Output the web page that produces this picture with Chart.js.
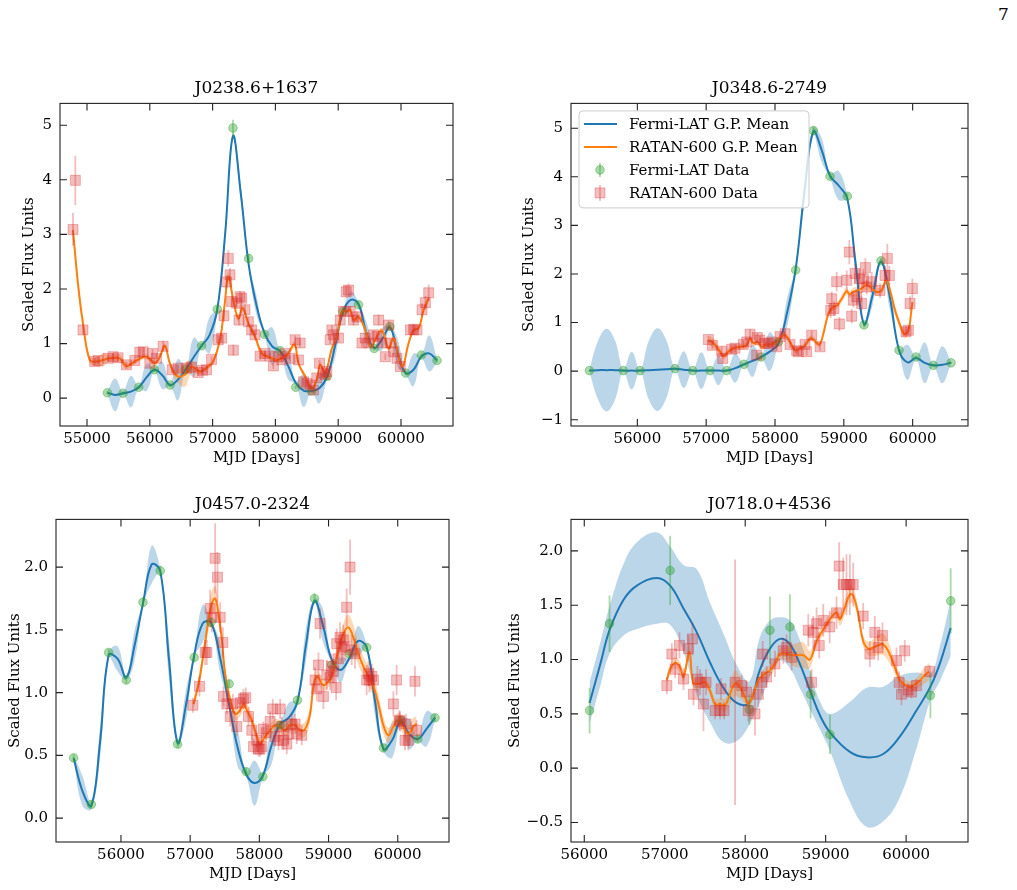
<!DOCTYPE html>
<html>
<head>
<meta charset="utf-8">
<script src="https://cdn.jsdelivr.net/npm/chart.js@4.4.1/dist/chart.umd.min.js"></script>
<style>
  body { margin: 0; background: #fff; width: 1017px; height: 890px; position: relative; overflow: hidden; font-family: 'DejaVu Serif', serif; }
  canvas { position: absolute; }
  #page { position: absolute; left: 998px; top: 4px; font-size: 17px; color: #000; }
</style>
</head>
<body>
<div id="page">7</div>
<canvas id="c1" width="447" height="396" style="left:18px;top:74px"></canvas>
<canvas id="c2" width="462" height="396" style="left:518px;top:74px"></canvas>
<canvas id="c3" width="457" height="396" style="left:4px;top:490px"></canvas>
<canvas id="c4" width="476" height="396" style="left:504px;top:490px"></canvas>
<script>
// ---------- J0238.6+1637 ----------
const j0238XTicks = [55000, 56000, 57000, 58000, 59000, 60000];
const j0238YTicks = [0, 1, 2, 3, 4, 5];
const j0238FermiMjd = [55324, 55574, 55824, 56074, 56324, 56574, 56824, 57074, 57324, 57574, 57824, 58074, 58324, 58574, 58824, 59074, 59324, 59574, 59824, 60074, 60324, 60574];
const j0238FermiFlux = [0.10, 0.09, 0.20, 0.52, 0.24, 0.53, 0.96, 1.63, 4.95, 2.56, 1.17, 0.87, 0.20, 0.13, 0.40, 1.59, 1.71, 0.91, 1.31, 0.46, 0.79, 0.69];
const j0238FermiErr = [0.03, 0.03, 0.03, 0.04, 0.03, 0.04, 0.05, 0.06, 0.15, 0.08, 0.05, 0.04, 0.03, 0.03, 0.04, 0.06, 0.06, 0.04, 0.05, 0.04, 0.04, 0.04];
const j0238RatanMjd = [
  54777, 54814, 54936, 55122, 55176, 55335, 55415, 55495, 55628, 55761,
  55840, 55894, 56000, 56043, 56106, 56213, 56356, 56452, 56585, 56665,
  56771, 56840, 56904, 56984, 57090, 57144, 57181, 57223, 57250, 57277,
  57303, 57330, 57383, 57420, 57436, 57463, 57516, 57569, 57622, 57675,
  57755, 57835, 57915, 57968, 58048, 58101, 58154, 58234, 58314, 58367,
  58394, 58447, 58500, 58553, 58606, 58659, 58702, 58766, 58792, 58819,
  58872, 58899, 58926, 59005, 59032, 59085, 59128, 59165, 59191, 59244,
  59298, 59378, 59431, 59484, 59564, 59617, 59644, 59697, 59750, 59803,
  59830, 59883, 59936, 59989, 60149, 60202, 60255, 60335, 60388, 60441];
const j0238RatanFlux = [
  3.09, 3.99, 1.25, 0.67, 0.69, 0.73, 0.76, 0.74, 0.61, 0.69,
  0.84, 0.85, 0.64, 0.82, 0.73, 0.95, 0.52, 0.55, 0.55, 0.57,
  0.47, 0.51, 0.52, 0.71, 1.07, 1.10, 1.51, 2.13, 2.56, 2.26,
  1.77, 0.88, 1.74, 1.43, 1.86, 1.83, 1.62, 1.40, 1.25, 1.16,
  0.77, 0.82, 0.77, 0.59, 0.76, 0.70, 0.82, 0.73, 1.07, 0.70,
  1.01, 0.30, 0.27, 0.24, 0.15, 0.37, 0.64, 0.46, 0.43, 0.49,
  1.07, 1.25, 1.16, 1.10, 1.43, 1.59, 1.95, 1.98, 1.59, 1.43,
  1.49, 1.01, 1.10, 1.01, 1.16, 1.13, 1.43, 1.01, 0.76, 1.34,
  1.01, 0.85, 0.73, 0.58, 1.25, 1.26, 1.25, 1.62, 1.75, 1.93];
const j0238RatanErr = [
  0.30, 0.45, 0.08, 0.06, 0.06, 0.06, 0.06, 0.06, 0.06, 0.06,
  0.08, 0.08, 0.08, 0.08, 0.08, 0.10, 0.06, 0.06, 0.06, 0.06,
  0.06, 0.06, 0.06, 0.06, 0.08, 0.08, 0.10, 0.12, 0.15, 0.12,
  0.10, 0.10, 0.10, 0.10, 0.10, 0.10, 0.10, 0.08, 0.08, 0.08,
  0.06, 0.06, 0.06, 0.06, 0.06, 0.06, 0.06, 0.06, 0.08, 0.06,
  0.08, 0.06, 0.06, 0.06, 0.06, 0.06, 0.06, 0.06, 0.06, 0.06,
  0.08, 0.08, 0.08, 0.08, 0.10, 0.10, 0.12, 0.12, 0.10, 0.10,
  0.10, 0.08, 0.08, 0.08, 0.08, 0.08, 0.10, 0.08, 0.06, 0.08,
  0.08, 0.08, 0.06, 0.06, 0.10, 0.10, 0.10, 0.12, 0.12, 0.15];
const j0238FermiGpMjd = [
  55324, 55449, 55574, 55699, 55824, 55949, 56074, 56199, 56324, 56449,
  56574, 56699, 56824, 56949, 57074, 57199, 57324, 57449, 57574, 57699,
  57824, 57949, 58074, 58199, 58324, 58449, 58574, 58699, 58824, 58949,
  59074, 59199, 59324, 59449, 59574, 59699, 59824, 59949, 60074, 60199,
  60324, 60449, 60574];
const j0238FermiGpMean = [
  0.10, 0.06, 0.09, 0.12, 0.20, 0.38, 0.52, 0.42, 0.24, 0.34,
  0.53, 0.75, 0.96, 1.15, 1.62, 3.00, 4.80, 3.75, 2.45, 1.70,
  1.20, 0.95, 0.86, 0.60, 0.28, 0.14, 0.13, 0.18, 0.40, 0.95,
  1.57, 1.80, 1.72, 1.20, 0.92, 1.08, 1.30, 0.82, 0.46, 0.52,
  0.76, 0.82, 0.69];
const j0238FermiGpSigma = [
  0.03, 0.30, 0.03, 0.29, 0.03, 0.25, 0.03, 0.25, 0.03, 0.38,
  0.03, 0.36, 0.03, 0.33, 0.04, 0.15, 0.06, 0.15, 0.04, 0.18,
  0.03, 0.35, 0.03, 0.25, 0.03, 0.30, 0.03, 0.28, 0.04, 0.22,
  0.04, 0.15, 0.04, 0.20, 0.03, 0.20, 0.03, 0.25, 0.03, 0.30,
  0.03, 0.33, 0.03];
const j0238RatanGpMjd = [
  54777, 54856, 54936, 55043, 55149, 55255, 55362, 55521, 55628, 55787,
  55947, 56080, 56160, 56240, 56319, 56426, 56559, 56665, 56798, 56931,
  57010, 57117, 57190, 57250, 57330, 57410, 57479, 57569, 57675, 57782,
  57888, 58021, 58181, 58303, 58367, 58473, 58580, 58659, 58712, 58792,
  58899, 58979, 59059, 59138, 59191, 59244, 59324, 59431, 59521, 59617,
  59697, 59803, 59883, 60016, 60122, 60202, 60282, 60362, 60441];
const j0238RatanGpMean = [
  3.08, 2.10, 1.37, 0.70, 0.67, 0.70, 0.73, 0.73, 0.59, 0.69,
  0.76, 0.64, 0.76, 0.96, 0.64, 0.41, 0.43, 0.58, 0.49, 0.58,
  0.67, 1.07, 1.70, 2.23, 1.80, 1.46, 1.65, 1.37, 1.13, 0.82,
  0.76, 0.70, 0.79, 0.98, 0.64, 0.40, 0.18, 0.34, 0.61, 0.46,
  0.91, 1.13, 1.59, 1.59, 1.62, 1.43, 1.49, 1.25, 0.95, 1.13,
  1.24, 0.91, 1.10, 0.58, 1.01, 1.25, 1.28, 1.62, 1.83];
const j0238RatanGpSigma = [
  0.15, 0.12, 0.10, 0.06, 0.08, 0.12, 0.06, 0.08, 0.06, 0.05,
  0.05, 0.05, 0.05, 0.05, 0.05, 0.10, 0.22, 0.12, 0.05, 0.05,
  0.05, 0.06, 0.08, 0.10, 0.10, 0.06, 0.06, 0.06, 0.06, 0.08,
  0.05, 0.05, 0.05, 0.06, 0.05, 0.05, 0.05, 0.05, 0.05, 0.05,
  0.06, 0.05, 0.05, 0.05, 0.05, 0.05, 0.06, 0.05, 0.05, 0.05,
  0.05, 0.06, 0.06, 0.05, 0.05, 0.05, 0.05, 0.06, 0.08];

// ---------- J0348.6-2749 ----------
const j0348XTicks = [56000, 57000, 58000, 59000, 60000];
const j0348YTicks = [-1, 0, 1, 2, 3, 4, 5];
const j0348FermiMjd = [55303, 55797, 56039, 56547, 56804, 57056, 57298, 57550, 57797, 58049, 58300, 58557, 58799, 59051, 59293, 59540, 59802, 60049, 60301, 60557];
const j0348FermiFlux = [0.01, 0.01, 0.01, 0.05, 0.01, 0.01, 0.01, 0.14, 0.29, 0.60, 2.08, 4.95, 4.01, 3.60, 0.95, 2.27, 0.43, 0.29, 0.12, 0.17];
const j0348FermiErr = [0.02, 0.02, 0.02, 0.02, 0.02, 0.02, 0.02, 0.03, 0.03, 0.04, 0.06, 0.08, 0.06, 0.06, 0.05, 0.06, 0.03, 0.03, 0.02, 0.02];
const j0348RatanMjd = [
  57032, 57090, 57225, 57240, 57371, 57419, 57540, 57589, 57637, 57734,
  57744, 57782, 57855, 57903, 57952, 58024, 58073, 58146, 58218, 58315,
  58339, 58436, 58460, 58533, 58654, 58809, 58824, 58857, 58896, 58935,
  59042, 59080, 59114, 59138, 59163, 59187, 59226, 59259, 59284, 59313,
  59332, 59405, 59526, 59598, 59632, 59661, 59904, 59938, 59962, 59996];
const j0348RatanFlux = [
  0.65, 0.53, 0.41, 0.26, 0.45, 0.47, 0.55, 0.60, 0.76, 0.33,
  0.69, 0.64, 0.57, 0.57, 0.60, 0.50, 0.71, 0.77, 0.55, 0.42,
  0.40, 0.55, 0.40, 0.74, 0.50, 1.25, 1.49, 1.29, 1.84, 0.97,
  1.87, 2.45, 1.13, 1.46, 2.01, 1.53, 1.90, 1.39, 1.90, 2.13,
  1.73, 1.84, 1.66, 1.97, 2.32, 1.97, 0.81, 0.84, 1.39, 1.70];
const j0348RatanErr = [
  0.08, 0.08, 0.10, 0.10, 0.08, 0.08, 0.08, 0.08, 0.10, 0.08,
  0.10, 0.08, 0.08, 0.08, 0.08, 0.08, 0.08, 0.10, 0.08, 0.08,
  0.08, 0.08, 0.08, 0.10, 0.08, 0.15, 0.15, 0.15, 0.20, 0.15,
  0.20, 0.25, 0.15, 0.15, 0.20, 0.15, 0.20, 0.15, 0.20, 0.20,
  0.15, 0.20, 0.15, 0.20, 0.30, 0.20, 0.10, 0.10, 0.15, 0.20];
const j0348FermiGpMjd = [
  55303, 55428, 55553, 55678, 55797, 55918, 56039, 56166, 56293, 56420,
  56547, 56675, 56804, 56930, 57056, 57177, 57298, 57424, 57550, 57673,
  57797, 57923, 58049, 58175, 58300, 58428, 58557, 58678, 58799, 58925,
  59051, 59172, 59293, 59416, 59540, 59671, 59802, 59925, 60049, 60175,
  60301, 60429, 60557];
const j0348FermiGpMean = [
  0.01, 0.02, 0.02, 0.02, 0.01, 0.01, 0.01, 0.02, 0.03, 0.04,
  0.05, 0.03, 0.01, 0.01, 0.01, 0.01, 0.01, 0.06, 0.14, 0.21,
  0.29, 0.40, 0.56, 1.20, 2.10, 3.70, 4.93, 4.55, 4.02, 3.82,
  3.55, 2.20, 0.97, 1.55, 2.25, 1.50, 0.43, 0.18, 0.27, 0.17,
  0.12, 0.13, 0.17];
const j0348FermiGpSigma = [
  0.02, 0.60, 0.85, 0.60, 0.02, 0.39, 0.02, 0.60, 0.85, 0.60,
  0.03, 0.38, 0.02, 0.38, 0.02, 0.30, 0.02, 0.30, 0.02, 0.33,
  0.02, 0.40, 0.03, 0.30, 0.05, 0.25, 0.08, 0.25, 0.05, 0.30,
  0.05, 0.20, 0.05, 0.20, 0.05, 0.25, 0.03, 0.36, 0.03, 0.42,
  0.03, 0.38, 0.03];
const j0348RatanGpMjd = [
  57032, 57104, 57201, 57250, 57322, 57395, 57492, 57589, 57637, 57685,
  57744, 57807, 57879, 57952, 58024, 58097, 58146, 58218, 58291, 58363,
  58436, 58509, 58557, 58644, 58702, 58775, 58838, 58906, 58979, 59042,
  59080, 59138, 59235, 59332, 59405, 59477, 59550, 59613, 59671, 59744,
  59816, 59874, 59938, 59976, 59996];
const j0348RatanGpMean = [
  0.64, 0.58, 0.40, 0.31, 0.40, 0.47, 0.50, 0.53, 0.67, 0.57,
  0.60, 0.50, 0.55, 0.55, 0.62, 0.72, 0.74, 0.60, 0.43, 0.47,
  0.53, 0.67, 0.65, 0.55, 0.77, 1.18, 1.31, 1.36, 1.51, 1.65,
  1.58, 1.63, 1.68, 1.77, 1.70, 1.63, 1.66, 1.87, 1.66, 1.25,
  0.95, 0.77, 0.84, 1.18, 1.42];
const j0348RatanGpSigma = [
  0.10, 0.10, 0.08, 0.07, 0.07, 0.06, 0.06, 0.06, 0.06, 0.06,
  0.06, 0.06, 0.06, 0.06, 0.06, 0.06, 0.06, 0.06, 0.06, 0.06,
  0.06, 0.06, 0.06, 0.06, 0.08, 0.08, 0.07, 0.07, 0.08, 0.08,
  0.07, 0.08, 0.10, 0.10, 0.09, 0.08, 0.08, 0.08, 0.10, 0.10,
  0.09, 0.09, 0.08, 0.09, 0.10];

// ---------- J0457.0-2324 ----------
const j0457XTicks = [56000, 57000, 58000, 59000, 60000];
const j0457YTicks = [0, 0.5, 1, 1.5, 2];
const j0457FermiMjd = [55316, 55572, 55822, 56077, 56318, 56568, 56818, 57059, 57300, 57564, 57810, 58051, 58301, 58551, 58797, 59047, 59297, 59552, 59793, 60043, 60289, 60539];
const j0457FermiFlux = [0.48, 0.11, 1.32, 1.10, 1.72, 1.97, 0.59, 1.28, 1.56, 1.07, 0.37, 0.33, 0.74, 0.94, 1.75, 1.22, 1.31, 1.36, 0.56, 0.78, 0.63, 0.80];
const j0457FermiErr = [0.03, 0.03, 0.03, 0.03, 0.04, 0.04, 0.03, 0.04, 0.04, 0.03, 0.03, 0.03, 0.03, 0.03, 0.04, 0.03, 0.03, 0.03, 0.03, 0.03, 0.03, 0.03];
const j0457RatanMjd = [
  57039, 57135, 57217, 57241, 57289, 57313, 57361, 57395, 57434, 57472,
  57482, 57530, 57578, 57616, 57674, 57722, 57770, 57804, 57843, 57891,
  57916, 57963, 57988, 58011, 58035, 58059, 58098, 58156, 58194, 58228,
  58276, 58301, 58324, 58348, 58396, 58420, 58468, 58516, 58540, 58613,
  58805, 58829, 58855, 58877, 58926, 58974, 59023, 59046, 59070, 59110,
  59118, 59142, 59166, 59191, 59214, 59238, 59262, 59311, 59335, 59383,
  59551, 59576, 59590, 59624, 59649, 59937, 59984, 60024, 60033, 60105,
  60120, 60153, 60249, 60273];
const j0457RatanFlux = [
  0.90, 1.05, 1.32, 1.32, 1.67, 1.60, 2.07, 1.92, 1.60, 1.40,
  0.97, 0.91, 0.81, 0.91, 0.73, 0.92, 0.95, 0.96, 0.81, 0.70,
  0.57, 0.62, 0.55, 0.55, 0.57, 0.71, 0.68, 0.77, 0.87, 0.65,
  0.62, 0.87, 0.73, 0.62, 0.59, 0.67, 0.75, 0.75, 0.67, 0.66,
  1.10, 1.03, 1.22, 1.55, 0.97, 1.14, 1.12, 1.21, 1.17, 1.04,
  1.39, 1.27, 1.44, 1.36, 1.42, 1.37, 1.68, 2.00, 1.34, 1.31,
  1.10, 1.15, 1.10, 1.13, 1.10, 0.91, 1.10, 0.78, 0.77, 0.62,
  0.75, 0.62, 1.09, 0.70];
const j0457RatanErr = [
  0.06, 0.08, 0.10, 0.10, 0.15, 0.12, 0.28, 0.20, 0.12, 0.12,
  0.08, 0.08, 0.08, 0.08, 0.08, 0.08, 0.08, 0.08, 0.08, 0.08,
  0.06, 0.06, 0.06, 0.06, 0.06, 0.06, 0.06, 0.08, 0.08, 0.08,
  0.08, 0.08, 0.08, 0.08, 0.08, 0.08, 0.08, 0.08, 0.08, 0.08,
  0.10, 0.10, 0.10, 0.12, 0.10, 0.12, 0.10, 0.10, 0.10, 0.10,
  0.12, 0.10, 0.12, 0.12, 0.12, 0.12, 0.15, 0.22, 0.12, 0.12,
  0.12, 0.10, 0.10, 0.10, 0.10, 0.10, 0.12, 0.08, 0.08, 0.08,
  0.08, 0.08, 0.12, 0.08];
const j0457FermiGpMjd = [
  55316, 55441, 55572, 55697, 55822, 55950, 56077, 56198, 56318, 56443,
  56568, 56693, 56818, 56939, 57059, 57180, 57300, 57432, 57564, 57687,
  57810, 57930, 58051, 58176, 58301, 58426, 58551, 58674, 58797, 58922,
  59047, 59172, 59297, 59425, 59552, 59672, 59793, 59918, 60043, 60166,
  60289, 60414, 60539];
const j0457FermiGpMean = [
  0.48, 0.22, 0.10, 0.60, 1.30, 1.27, 1.12, 1.38, 1.71, 2.02,
  1.97, 1.27, 0.60, 0.90, 1.30, 1.55, 1.56, 1.28, 0.90, 0.56,
  0.35, 0.28, 0.34, 0.58, 0.75, 0.80, 0.93, 1.38, 1.73, 1.53,
  1.26, 1.18, 1.27, 1.41, 1.36, 0.93, 0.55, 0.62, 0.77, 0.67,
  0.63, 0.71, 0.80];
const j0457FermiGpSigma = [
  0.02, 0.12, 0.03, 0.12, 0.02, 0.10, 0.02, 0.12, 0.02, 0.15,
  0.02, 0.15, 0.02, 0.12, 0.02, 0.15, 0.02, 0.12, 0.02, 0.15,
  0.02, 0.18, 0.02, 0.15, 0.02, 0.12, 0.02, 0.13, 0.02, 0.13,
  0.02, 0.10, 0.02, 0.12, 0.02, 0.12, 0.02, 0.14, 0.02, 0.12,
  0.02, 0.14, 0.02];
const j0457RatanGpMjd = [
  57049, 57121, 57193, 57265, 57313, 57361, 57409, 57458, 57506, 57578,
  57650, 57722, 57770, 57819, 57891, 57963, 58011, 58083, 58156, 58228,
  58300, 58372, 58444, 58516, 58589, 58661, 58733, 58781, 58829, 58877,
  58925, 58998, 59070, 59142, 59214, 59286, 59359, 59431, 59503, 59575,
  59648, 59720, 59792, 59864, 59936, 60009, 60081, 60153, 60225, 60273];
const j0457RatanGpMean = [
  0.91, 1.07, 1.31, 1.58, 1.71, 1.75, 1.63, 1.42, 1.15, 0.94,
  0.83, 0.86, 0.91, 0.86, 0.78, 0.65, 0.59, 0.65, 0.70, 0.74,
  0.73, 0.70, 0.74, 0.74, 0.70, 0.71, 0.83, 1.05, 1.13, 1.10,
  1.06, 1.09, 1.17, 1.34, 1.47, 1.52, 1.44, 1.31, 1.21, 1.13,
  1.05, 0.91, 0.74, 0.66, 0.73, 0.78, 0.73, 0.67, 0.73, 0.75];
const j0457RatanGpSigma = [
  0.04, 0.05, 0.06, 0.08, 0.10, 0.10, 0.08, 0.06, 0.05, 0.05,
  0.05, 0.05, 0.05, 0.05, 0.05, 0.05, 0.05, 0.05, 0.05, 0.05,
  0.05, 0.05, 0.05, 0.05, 0.05, 0.06, 0.06, 0.06, 0.05, 0.05,
  0.05, 0.05, 0.06, 0.07, 0.08, 0.10, 0.10, 0.09, 0.08, 0.08,
  0.08, 0.08, 0.07, 0.06, 0.06, 0.06, 0.06, 0.07, 0.07, 0.06];

// ---------- J0718.0+4536 ----------
const j0718XTicks = [56000, 57000, 58000, 59000, 60000];
const j0718YTicks = [-0.5, 0, 0.5, 1, 1.5, 2];
const j0718FermiMjd = [56066, 56314, 57067, 58052, 58308, 58556, 58813, 59053, 60302, 60554];
const j0718FermiFlux = [0.53, 1.33, 1.82, 0.54, 1.27, 1.30, 0.68, 0.31, 0.67, 1.54];
const j0718FermiErr = [0.21, 0.26, 0.32, 0.14, 0.31, 0.30, 0.22, 0.18, 0.21, 0.30];
const j0718RatanMjd = [
  57026, 57088, 57129, 57183, 57233, 57295, 57344, 57357, 57406, 57440,
  57481, 57514, 57626, 57688, 57700, 57737, 57874, 57956, 58018, 58039,
  58122, 58163, 58205, 58217, 58267, 58370, 58473, 58515, 58577, 58784,
  58825, 58846, 58887, 58920, 58970, 59050, 59135, 59168, 59218, 59259,
  59301, 59342, 59466, 59549, 59611, 59652, 59706, 59880, 59913, 59942,
  59983, 60025, 60066, 60128, 60294];
const j0718RatanFlux = [
  0.76, 1.05, 0.91, 1.13, 0.82, 1.10, 1.19, 0.68, 0.82, 0.79,
  0.59, 0.79, 0.53, 0.53, 0.73, 0.53, 0.79, 0.76, 0.70, 0.53,
  0.50, 0.68, 0.79, 1.05, 0.84, 0.96, 1.08, 1.11, 1.02, 1.27,
  0.79, 1.25, 1.33, 1.13, 1.36, 1.30, 1.43, 1.86, 1.69, 1.69,
  1.69, 1.69, 1.40, 1.05, 1.25, 1.11, 1.22, 0.99, 0.79, 0.68,
  1.08, 0.72, 0.70, 0.76, 0.89];
const j0718RatanErr = [
  0.08, 0.10, 0.08, 0.12, 0.10, 0.12, 0.15, 0.10, 0.12, 0.12,
  0.25, 0.12, 0.08, 0.08, 0.10, 0.08, 1.13, 0.10, 0.10, 0.10,
  0.20, 0.12, 0.10, 0.12, 0.10, 0.12, 0.12, 0.12, 0.12, 0.15,
  0.12, 0.15, 0.15, 0.12, 0.15, 0.15, 0.15, 0.22, 0.25, 0.28,
  0.28, 0.20, 0.12, 0.12, 0.15, 0.12, 0.12, 0.12, 0.10, 0.10,
  0.10, 0.06, 0.06, 0.06, 0.06];
const j0718FermiGpMjd = [
  56066, 56200, 56314, 56488, 56654, 56902, 57067, 57233, 57398, 57564,
  57729, 57895, 58052, 58180, 58308, 58432, 58556, 58684, 58813, 58933,
  59053, 59301, 59508, 59715, 59921, 60128, 60302, 60418, 60554];
const j0718FermiGpMean = [
  0.60, 0.96, 1.27, 1.55, 1.68, 1.75, 1.68, 1.47, 1.25, 0.97,
  0.74, 0.60, 0.60, 0.90, 1.10, 1.19, 1.14, 0.95, 0.70, 0.48,
  0.33, 0.15, 0.10, 0.13, 0.29, 0.53, 0.75, 0.96, 1.29];
const j0718FermiGpSigma = [
  0.19, 0.20, 0.22, 0.33, 0.40, 0.42, 0.36, 0.40, 0.58, 0.55,
  0.50, 0.35, 0.20, 0.30, 0.26, 0.20, 0.22, 0.22, 0.17, 0.13,
  0.17, 0.46, 0.64, 0.62, 0.56, 0.35, 0.12, 0.16, 0.26];
const j0718RatanGpMjd = [
  57026, 57067, 57129, 57191, 57233, 57307, 57357, 57440, 57502, 57564,
  57626, 57688, 57750, 57791, 57874, 57936, 57998, 58039, 58101, 58163,
  58246, 58308, 58370, 58432, 58515, 58598, 58722, 58804, 58887, 58991,
  59073, 59135, 59177, 59239, 59301, 59342, 59404, 59466, 59528, 59590,
  59652, 59714, 59776, 59859, 59921, 59963, 60046, 60128, 60211, 60285];
const j0718RatanGpMean = [
  0.81, 0.91, 0.97, 0.93, 0.84, 1.07, 0.78, 0.78, 0.79, 0.71,
  0.59, 0.59, 0.58, 0.64, 0.78, 0.74, 0.65, 0.59, 0.68, 0.81,
  0.87, 0.90, 0.96, 1.05, 1.05, 1.04, 1.04, 1.00, 1.17, 1.30,
  1.39, 1.43, 1.37, 1.48, 1.60, 1.59, 1.42, 1.17, 1.10, 1.11,
  1.13, 1.14, 1.08, 0.93, 0.81, 0.78, 0.75, 0.78, 0.84, 0.89];
const j0718RatanGpSigma = [
  0.05, 0.05, 0.05, 0.05, 0.05, 0.06, 0.05, 0.05, 0.05, 0.05,
  0.05, 0.05, 0.06, 0.08, 0.12, 0.10, 0.06, 0.05, 0.05, 0.05,
  0.05, 0.05, 0.05, 0.05, 0.06, 0.10, 0.12, 0.08, 0.05, 0.05,
  0.05, 0.05, 0.06, 0.07, 0.08, 0.07, 0.06, 0.05, 0.06, 0.08,
  0.09, 0.10, 0.09, 0.06, 0.05, 0.05, 0.05, 0.05, 0.07, 0.08];

// ---------- drawing ----------
const FONT = "'DejaVu Serif', serif";
const BLUE = '#1f77b4';
const ORANGE = '#ff7f0e';
const GREEN_A = 'rgba(44,160,44,0.4)';
const RED_A = 'rgba(214,39,40,0.3)';

function xy(xs, ys) { return xs.map((x, i) => ({ x: x, y: ys[i] })); }
function edge(xs, m, s, sign) { return xs.map((x, i) => ({ x: x, y: m[i] + sign * s[i] })); }
function minus(str) { return str.replace('-', '\u2212'); }

// vertical error bars, drawn right before their markers
const errorBars = {
  id: 'errorBars',
  beforeDatasetDraw(chart, args) {
    const ds = chart.data.datasets[args.index];
    if (!ds.errs) return;
    const { ctx, chartArea: a, scales: { x, y } } = chart;
    ctx.save();
    ctx.beginPath();
    ctx.rect(a.left, a.top, a.right - a.left, a.bottom - a.top);
    ctx.clip();
    ctx.strokeStyle = ds.errColor;
    ctx.lineWidth = 1.8;
    ds.data.forEach((p, i) => {
      const px = x.getPixelForValue(p.x);
      ctx.beginPath();
      ctx.moveTo(px, y.getPixelForValue(p.y - ds.errs[i]));
      ctx.lineTo(px, y.getPixelForValue(p.y + ds.errs[i]));
      ctx.stroke();
    });
    ctx.restore();
  }
};

// box around the axes + inward ticks on all four sides
const frame = {
  id: 'frame',
  afterDatasetsDraw(chart) {
    const { ctx, chartArea: a, scales: { x, y } } = chart;
    const L = 7;
    ctx.save();
    ctx.strokeStyle = '#222';
    ctx.lineWidth = 1.1;
    ctx.strokeRect(a.left, a.top, a.right - a.left, a.bottom - a.top);
    ctx.beginPath();
    x.ticks.forEach(t => {
      const p = x.getPixelForValue(t.value);
      ctx.moveTo(p, a.bottom); ctx.lineTo(p, a.bottom - L);
      ctx.moveTo(p, a.top); ctx.lineTo(p, a.top + L);
    });
    y.ticks.forEach(t => {
      const p = y.getPixelForValue(t.value);
      ctx.moveTo(a.left, p); ctx.lineTo(a.left + L, p);
      ctx.moveTo(a.right, p); ctx.lineTo(a.right - L, p);
    });
    ctx.stroke();
    ctx.restore();
  }
};

// matplotlib-like legend box (only on one panel)
const gpLegend = {
  id: 'gpLegend',
  afterDraw(chart, args, opts) {
    if (!opts.show) return;
    const { ctx, chartArea: a } = chart;
    const bx = a.left + 8, by = a.top + 7.5, bw = 230, bh = 97;
    ctx.save();
    ctx.beginPath();
    ctx.roundRect(bx, by, bw, bh, 4);
    ctx.fillStyle = 'rgba(255,255,255,0.8)';
    ctx.fill();
    ctx.strokeStyle = '#cccccc';
    ctx.lineWidth = 1;
    ctx.stroke();
    const rows = [13, 36, 59, 82].map(v => by + v);
    ctx.lineWidth = 2;
    ctx.strokeStyle = BLUE;
    ctx.beginPath(); ctx.moveTo(bx + 5, rows[0]); ctx.lineTo(bx + 38, rows[0]); ctx.stroke();
    ctx.strokeStyle = ORANGE;
    ctx.beginPath(); ctx.moveTo(bx + 5, rows[1]); ctx.lineTo(bx + 38, rows[1]); ctx.stroke();
    const mx = bx + 21;
    ctx.lineWidth = 1.8;
    ctx.strokeStyle = GREEN_A;
    ctx.beginPath(); ctx.moveTo(mx, rows[2] - 7); ctx.lineTo(mx, rows[2] + 7); ctx.stroke();
    ctx.fillStyle = GREEN_A;
    ctx.lineWidth = 1;
    ctx.beginPath(); ctx.arc(mx, rows[2], 4.3, 0, Math.PI * 2); ctx.fill(); ctx.stroke();
    ctx.strokeStyle = RED_A;
    ctx.lineWidth = 1.8;
    ctx.beginPath(); ctx.moveTo(mx, rows[3] - 8); ctx.lineTo(mx, rows[3] + 8); ctx.stroke();
    ctx.fillStyle = RED_A;
    ctx.lineWidth = 1;
    ctx.beginPath(); ctx.rect(mx - 5, rows[3] - 5, 10, 10); ctx.fill(); ctx.stroke();
    ctx.fillStyle = '#000';
    ctx.font = '15px ' + FONT;
    ctx.textBaseline = 'middle';
    ['Fermi-LAT G.P. Mean', 'RATAN-600 G.P. Mean', 'Fermi-LAT Data', 'RATAN-600 Data']
      .forEach((t, i) => ctx.fillText(t, bx + 50, rows[i] + 1));
    ctx.restore();
  }
};

function lineDs(data, color, order) {
  return { data: data, borderColor: color, borderWidth: 2, pointRadius: 0, tension: 0.4, fill: false, order: order };
}
function bandDs(data, fill, color, order) {
  return { data: data, borderColor: 'rgba(0,0,0,0)', borderWidth: 0, pointRadius: 0, tension: 0.4,
           fill: fill, backgroundColor: color, order: order };
}
function fixedTicks(values) {
  return scale => { scale.ticks = values.map(v => ({ value: v })); };
}

function makePanel(id, P) {
  new Chart(document.getElementById(id), {
    type: 'line',
    data: {
      datasets: [
        bandDs(edge(P.gx, P.gm, P.gs, -1), false, 'rgba(31,119,180,0.3)', 7),
        bandDs(edge(P.gx, P.gm, P.gs, 1), 0, 'rgba(31,119,180,0.3)', 7),
        bandDs(edge(P.ox, P.om, P.os, -1), false, 'rgba(255,127,14,0.3)', 6),
        bandDs(edge(P.ox, P.om, P.os, 1), 2, 'rgba(255,127,14,0.3)', 6),
        lineDs(xy(P.gx, P.gm), BLUE, 4),
        lineDs(xy(P.ox, P.om), ORANGE, 3),
        { data: xy(P.fx, P.fy), errs: P.fe, errColor: GREEN_A, showLine: false, pointStyle: 'circle',
          pointRadius: 4.3, pointBackgroundColor: GREEN_A, pointBorderColor: GREEN_A, pointBorderWidth: 1, order: 1 },
        { data: xy(P.rx, P.ry), errs: P.re, errColor: RED_A, showLine: false, pointStyle: 'rect',
          pointRadius: 7.07, pointBackgroundColor: RED_A, pointBorderColor: RED_A, pointBorderWidth: 1, order: 0 }
      ]
    },
    options: {
      responsive: false,
      animation: false,
      devicePixelRatio: 1,
      events: [],
      layout: { padding: { left: 0, right: 12, top: 0, bottom: 3 } },
      plugins: {
        legend: { display: false },
        tooltip: { enabled: false },
        title: { display: true, text: P.title, fullSize: false, color: '#000',
                 font: { family: FONT, size: 17, weight: 'normal' }, padding: { top: 4, bottom: 5 } },
        gpLegend: { show: !!P.legend }
      },
      scales: {
        x: {
          type: 'linear', min: P.xmin, max: P.xmax,
          afterBuildTicks: fixedTicks(P.xticks),
          afterFit: s => { s.height = 41; },
          grid: { display: false, drawTicks: false }, border: { display: false },
          ticks: { autoSkip: false, maxRotation: 0, padding: 4,
                   color: '#000', font: { family: FONT, size: 15 }, callback: v => String(Math.round(v)) },
          title: { display: true, text: 'MJD [Days]', color: '#000', font: { family: FONT, size: 15 },
                   padding: { top: 0, bottom: 0 } }
        },
        y: {
          type: 'linear', min: P.ymin, max: P.ymax,
          afterBuildTicks: fixedTicks(P.yticks),
          afterFit: s => { s.width = P.yw; },
          grid: { display: false, drawTicks: false }, border: { display: false },
          ticks: { autoSkip: false, padding: 8,
                   color: '#000', font: { family: FONT, size: 15 },
                   callback: v => minus(v.toFixed(P.dec)) },
          title: { display: true, text: 'Scaled Flux Units', color: '#000', font: { family: FONT, size: 15 },
                   padding: { top: 2, bottom: 0 } }
        }
      }
    },
    plugins: [errorBars, frame, gpLegend]
  });
}

makePanel('c1', {
  title: 'J0238.6+1637', xmin: 54570, xmax: 60828, ymin: -0.51, ymax: 5.40, dec: 0, yw: 42,
  xticks: j0238XTicks, yticks: j0238YTicks,
  fx: j0238FermiMjd, fy: j0238FermiFlux, fe: j0238FermiErr,
  rx: j0238RatanMjd, ry: j0238RatanFlux, re: j0238RatanErr,
  gx: j0238FermiGpMjd, gm: j0238FermiGpMean, gs: j0238FermiGpSigma,
  ox: j0238RatanGpMjd, om: j0238RatanGpMean, os: j0238RatanGpSigma
});
makePanel('c2', {
  title: 'J0348.6-2749', xmin: 55036, xmax: 60804, ymin: -1.13, ymax: 5.51, dec: 0, yw: 53, legend: true,
  xticks: j0348XTicks, yticks: j0348YTicks,
  fx: j0348FermiMjd, fy: j0348FermiFlux, fe: j0348FermiErr,
  rx: j0348RatanMjd, ry: j0348RatanFlux, re: j0348RatanErr,
  gx: j0348FermiGpMjd, gm: j0348FermiGpMean, gs: j0348FermiGpSigma,
  ox: j0348RatanGpMjd, om: j0348RatanGpMean, os: j0348RatanGpSigma
});
makePanel('c3', {
  title: 'J0457.0-2324', xmin: 55061, xmax: 60741, ymin: -0.19, ymax: 2.38, dec: 1, yw: 52,
  xticks: j0457XTicks, yticks: j0457YTicks,
  fx: j0457FermiMjd, fy: j0457FermiFlux, fe: j0457FermiErr,
  rx: j0457RatanMjd, ry: j0457RatanFlux, re: j0457RatanErr,
  gx: j0457FermiGpMjd, gm: j0457FermiGpMean, gs: j0457FermiGpSigma,
  ox: j0457RatanGpMjd, om: j0457RatanGpMean, os: j0457RatanGpSigma
});
makePanel('c4', {
  title: 'J0718.0+4536', xmin: 55835, xmax: 60769, ymin: -0.68, ymax: 2.29, dec: 1, yw: 67,
  xticks: j0718XTicks, yticks: j0718YTicks,
  fx: j0718FermiMjd, fy: j0718FermiFlux, fe: j0718FermiErr,
  rx: j0718RatanMjd, ry: j0718RatanFlux, re: j0718RatanErr,
  gx: j0718FermiGpMjd, gm: j0718FermiGpMean, gs: j0718FermiGpSigma,
  ox: j0718RatanGpMjd, om: j0718RatanGpMean, os: j0718RatanGpSigma
});
</script>
</body>
</html>
